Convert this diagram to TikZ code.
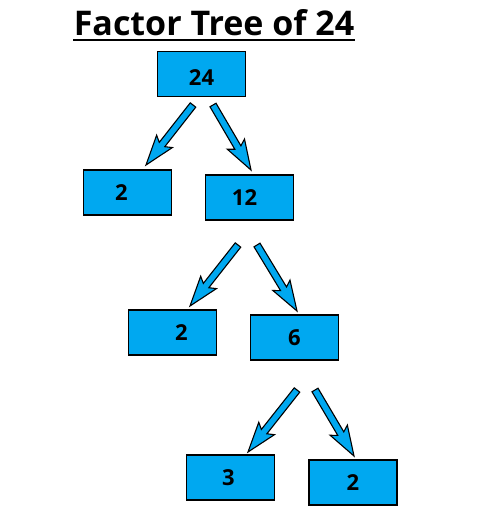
\documentclass[tikz,border=0pt]{standalone}
\usepackage{fontspec}
\setmainfont{Open Sans}
\usetikzlibrary{calc}
\definecolor{boxblue}{RGB}{0,168,240}
\tikzset{
  box/.style={draw=black, line width=1.4pt, fill=boxblue, minimum width=88pt, minimum height=45pt, inner sep=0pt},
  num/.style={font=\fontsize{22}{22}\selectfont\bfseries},
  blockarrow/.style={draw=black, line width=1.1pt, fill=boxblue, line join=miter}
}
\newcommand\blockarr[2]{%
  \path[blockarrow]
    ($(#1)!3.5pt!90:(#2)$) --
    ($($(#2)!26pt!(#1)$)!3.5pt!-90:(#1)$) --
    ($($(#2)!30pt!(#1)$)!10pt!-90:(#1)$) --
    (#2) --
    ($($(#2)!30pt!(#1)$)!10pt!90:(#1)$) --
    ($($(#2)!26pt!(#1)$)!3.5pt!90:(#1)$) --
    ($(#1)!3.5pt!-90:(#2)$) -- cycle;}
\begin{document}
\begin{tikzpicture}[x=1pt,y=-1pt]
\useasboundingbox (0,0) rectangle (498,516);
% title
\node[font=\fontsize{34}{34}\selectfont\bfseries, inner sep=0pt] (title) at (214,23) {Factor Tree of 24};
\draw[line width=2pt] (73,40) -- (355,40);
% boxes
\node[box, label={[num, yshift=-4pt]center:24}] (n24) at (201.5,74) {};
\node[box, label={[num, xshift=-6pt]center:2}] (a2) at (127.5,192.5) {};
\node[box, label={[num, xshift=-5pt]center:12}] (n12) at (249.5,197.5) {};
\node[box, label={[num, xshift=9pt]center:2}] (b2) at (172.5,332.5) {};
\node[box, label={[num]center:6}] (n6) at (294.5,337.5) {};
\node[box, label={[num, xshift=-2pt]center:3}] (n3) at (230.5,477.5) {};
\node[box, label={[num]center:2}] (c2) at (353,482.5) {};
% arrow coordinates
\coordinate (s1) at (193,105); \coordinate (t1) at (146,165);
\coordinate (s2) at (213,105); \coordinate (t2) at (251,170);
\coordinate (s3) at (238,245); \coordinate (t3) at (190,306);
\coordinate (s4) at (257,245); \coordinate (t4) at (297,311);
\coordinate (s5) at (297,390); \coordinate (t5) at (248,452);
\coordinate (s6) at (315,390); \coordinate (t6) at (354,456);
\blockarr{s1}{t1}
\blockarr{s2}{t2}
\blockarr{s3}{t3}
\blockarr{s4}{t4}
\blockarr{s5}{t5}
\blockarr{s6}{t6}
\end{tikzpicture}
\end{document}
